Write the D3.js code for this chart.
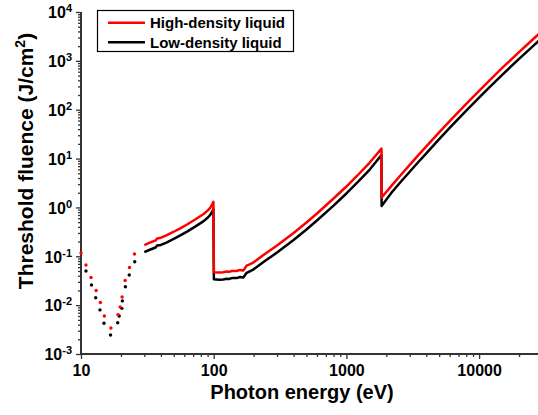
<!DOCTYPE html>
<html>
<head>
<meta charset="utf-8">
<script src="https://cdn.jsdelivr.net/npm/d3@7"></script>
<style>
  html, body { margin: 0; padding: 0; background: #fff; }
  svg { display: block; }
  text { font-family: "Liberation Sans", Arial, Helvetica, sans-serif; font-weight: bold; }
</style>
</head>
<body>
<svg id="chart" width="538" height="415"></svg>
<script>
// ---------- data ----------
const seriesNames = ["High-density liquid", "Low-density liquid"];
const seriesColors = ["#ff0000", "#000000"];

// low-energy region (plotted as dots)
const highDotEnergy = [10, 10.9, 11.9, 13.0, 14.0, 15.0, 16.8, 19.0, 19.7, 20.4, 21.5, 23.2, 25.3];
const highDotFluence = [0.117, 0.0664, 0.0368, 0.0200, 0.0113, 0.0060, 0.0034, 0.0064, 0.0092, 0.0147, 0.0319, 0.0589, 0.111];
const lowDotEnergy = [10.9, 12.0, 12.9, 13.9, 14.9, 16.7, 18.9, 19.4, 20.3, 20.5, 21.6, 23.1, 25.4];
const lowDotFluence = [0.050, 0.0258, 0.0142, 0.0080, 0.00425, 0.00245, 0.00437, 0.0060, 0.0086, 0.0122, 0.0238, 0.0414, 0.0775];

// solid curves
const solidEnergy = [30, 33, 36.5, 37.5, 40, 44, 50, 56, 63, 70, 77, 84, 90, 94, 97, 99.5,
  100.3, 110, 118, 125, 130, 137, 149, 158, 167, 172, 177, 188, 200, 240, 300, 400, 500, 600,
  800, 1000, 1200, 1500, 1838, 1842, 2200, 2600, 3000, 3500, 4000, 5000, 6000, 7000, 8000,
  10000, 12000, 15000, 20000, 25000, 30000];
const highFluence = [0.170, 0.190, 0.212, 0.232, 0.240, 0.268, 0.318, 0.374, 0.448, 0.535, 0.630, 0.733, 0.860, 0.980, 1.12, 1.30,
  0.047, 0.0465, 0.047, 0.0487, 0.0480, 0.0501, 0.0501, 0.0526, 0.0511, 0.057, 0.0642, 0.069, 0.0754, 0.109, 0.166, 0.299, 0.491, 0.751,
  1.52, 2.68, 4.40, 8.30, 16.0, 1.60, 2.82, 4.79, 7.42, 11.9, 17.7, 34.5, 58.4, 90.6, 132,
  244, 400, 724, 1510, 2643, 4140];
const lowFluence = [0.122, 0.136, 0.151, 0.166, 0.171, 0.191, 0.227, 0.267, 0.320, 0.382, 0.450, 0.524, 0.614, 0.700, 0.800, 0.930,
  0.0338, 0.0332, 0.0336, 0.0348, 0.0343, 0.0358, 0.0358, 0.0376, 0.0366, 0.0408, 0.0459, 0.0494, 0.0540, 0.078, 0.119, 0.215, 0.353, 0.540,
  1.09, 1.93, 3.17, 5.97, 11.8, 1.07, 2.04, 3.47, 5.38, 8.62, 12.8, 25.0, 42.3, 65.7, 95.7,
  177, 290, 525, 1094, 1915, 3000];

const xMajorTicks = [10, 100, 1000, 10000];
const xTickLabels = ["10", "100", "1000", "10000"];
const yExponents = [-3, -2, -1, 0, 1, 2, 3, 4];

// ---------- layout ----------
const svg = d3.select("#chart");
const x = d3.scaleLog().domain([10, 30000]).range([81, 81 + 132.7 * Math.log10(3000)]);
const y = d3.scaleLog().domain([1e-3, 1e4]).range([354, 12]);
const axisColor = "#333";

// minor ticks
const xMinor = [];
for (let d = 10; d <= 10000; d *= 10) for (let k = 2; k <= 9; k++) if (d * k <= 30000) xMinor.push(d * k);
const yMinor = [];
for (let d = 1e-3; d < 1e4 * 0.99; d *= 10) for (let k = 2; k <= 9; k++) yMinor.push(d * k);

// x axis
const gx = svg.append("g").attr("transform", "translate(0,354)");
gx.call(d3.axisBottom(x).tickValues(xMinor).tickSize(3).tickSizeOuter(0).tickFormat(""));
gx.append("g").call(d3.axisBottom(x).tickValues(xMajorTicks).tickSize(5).tickSizeOuter(0)
  .tickFormat((d, i) => xTickLabels[i]));
gx.selectAll("path.domain").attr("stroke", axisColor).attr("stroke-width", 2)
  .attr("d", "M81,0H538");
gx.selectAll(".tick line").attr("stroke", axisColor).attr("stroke-width", 1.3);
gx.selectAll(".tick text").attr("fill", "#000").attr("font-size", 16).attr("y", 11).attr("dy", "0.71em");

// y axis
const gy = svg.append("g").attr("transform", "translate(81,0)");
gy.call(d3.axisLeft(y).tickValues(yMinor).tickSize(3).tickSizeOuter(0).tickFormat(""));
const yMaj = gy.append("g").call(d3.axisLeft(y).tickValues(yExponents.map(e => Math.pow(10, e)))
  .tickSize(5).tickSizeOuter(0).tickFormat(""));
gy.selectAll("path.domain").attr("stroke", axisColor).attr("stroke-width", 2).attr("d", "M0,12V354");
gy.selectAll(".tick line").attr("stroke", axisColor).attr("stroke-width", 1.3);
yMaj.selectAll(".tick").each(function(d, i) {
  const t = d3.select(this).select("text");
  t.text(null).attr("x", -9).attr("dy", "0.36em").attr("font-size", 16).attr("fill", "#000")
    .attr("text-anchor", "end");
  t.append("tspan").text("10");
  t.append("tspan").attr("font-size", 11).attr("dy", "-0.55em").text(String(yExponents[i]).replace("-", "-"));
});

// axis titles
svg.append("text").attr("x", 302).attr("y", 399).attr("text-anchor", "middle")
  .attr("font-size", 20).text("Photon energy (eV)");
const yt = svg.append("text").attr("transform", "translate(33,161) rotate(-90)")
  .attr("text-anchor", "middle").attr("font-size", 21);
yt.append("tspan").text("Threshold fluence (J/cm");
yt.append("tspan").attr("font-size", 14).attr("dy", "-0.6em").text("2");
yt.append("tspan").attr("dy", "0.4em").text(")");

// ---------- data marks ----------
const line = d3.line().x(d => x(d[0])).y(d => y(d[1]));
const lowSolid = solidEnergy.map((e, i) => [e, lowFluence[i]]);
const highSolid = solidEnergy.map((e, i) => [e, highFluence[i]]);

svg.append("path").datum(lowSolid).attr("d", line).attr("fill", "none")
  .attr("stroke", seriesColors[1]).attr("stroke-width", 2.5).attr("stroke-linejoin", "round");
svg.append("path").datum(highSolid).attr("d", line).attr("fill", "none")
  .attr("stroke", seriesColors[0]).attr("stroke-width", 2.5).attr("stroke-linejoin", "round");

svg.append("g").selectAll("circle").data(lowDotEnergy.map((e, i) => [e, lowDotFluence[i]]))
  .join("circle").attr("cx", d => x(d[0])).attr("cy", d => y(d[1])).attr("r", 1.7)
  .attr("fill", seriesColors[1]);
svg.append("g").selectAll("circle").data(highDotEnergy.map((e, i) => [e, highDotFluence[i]]))
  .join("circle").attr("cx", d => x(d[0])).attr("cy", d => y(d[1])).attr("r", 1.7)
  .attr("fill", seriesColors[0]);

// ---------- legend ----------
const lg = svg.append("g");
lg.append("rect").attr("x", 97.5).attr("y", 10.5).attr("width", 196).attr("height", 41)
  .attr("fill", "#fff").attr("stroke", "#000").attr("stroke-width", 1.2);
seriesNames.forEach((name, i) => {
  const cy = 22.7 + i * 19.6;
  lg.append("line").attr("x1", 108).attr("x2", 145).attr("y1", cy).attr("y2", cy)
    .attr("stroke", seriesColors[i]).attr("stroke-width", 2.5);
  lg.append("text").attr("x", 150).attr("y", cy + 5.3).attr("font-size", 15).text(name);
});
</script>
</body>
</html>
